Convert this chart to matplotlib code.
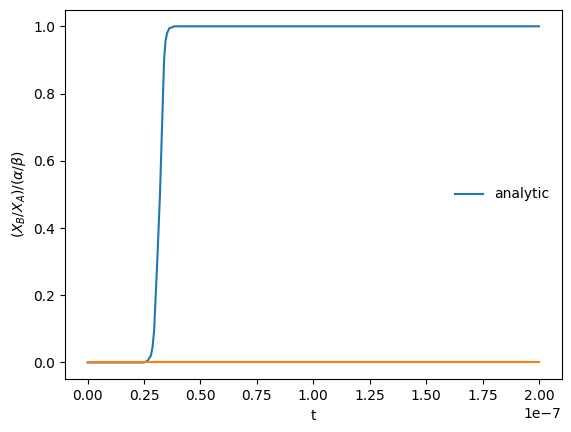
import numpy as np
from matplotlib import pyplot as plt

# values (t in units of 1e-7)
t_analytic = [0.0, 0.25, 0.266, 0.281, 0.288, 0.295, 0.309, 0.321, 0.330, 0.339,
              0.345, 0.352, 0.362, 0.385, 0.5, 1.0, 1.5, 2.0]
ratio_analytic = [0.0, 0.0, 0.005, 0.021, 0.046, 0.095, 0.304, 0.502, 0.70, 0.899,
                  0.954, 0.979, 0.994, 1.0, 1.0, 1.0, 1.0, 1.0]
t_numeric = [0.0, 0.5, 1.0, 1.5, 2.0]
ratio_numeric = [0.0, 0.0, 0.0, 0.0, 0.0]

fig = plt.figure(figsize=(5.71, 4.32), dpi=100)
ax = fig.add_axes([0.1138, 0.122, 0.9834 - 0.1138, 0.978 - 0.122])

ax.plot(np.array(t_analytic) * 1e-7, ratio_analytic, label='analytic')
ax.plot(np.array(t_numeric) * 1e-7, ratio_numeric)

ax.set_xlabel('t')
ax.set_ylabel(r'$(X_B/X_A)/(\alpha/\beta)$')
ax.legend(loc='center right', frameon=False)

fig.savefig('out.png')
